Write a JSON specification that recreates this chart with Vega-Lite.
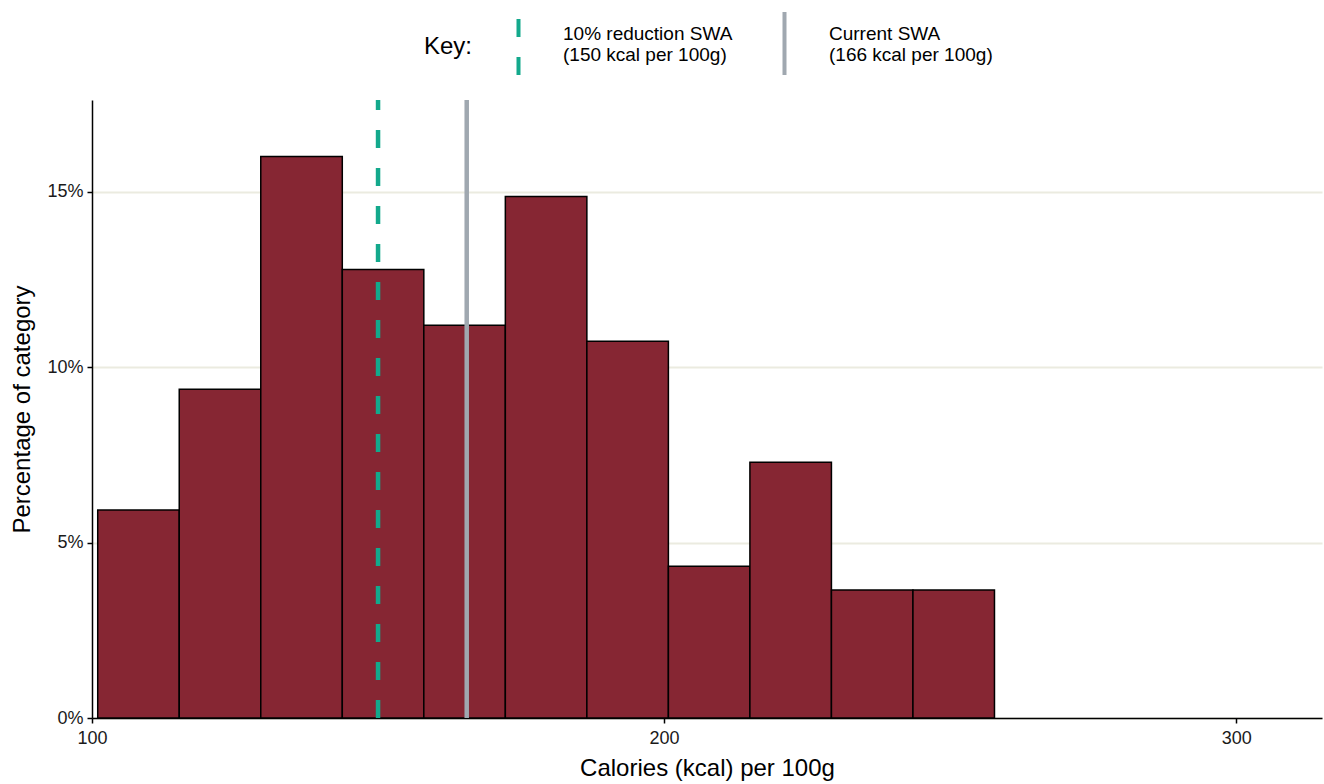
{
  "$schema": "https://vega.github.io/schema/vega-lite/v6.json",
  "width": 1230,
  "height": 618,
  "autosize": {"type": "none"},
  "padding": {"left": 92, "top": 100, "right": 2, "bottom": 66},
  "background": "white",
  "config": {
    "view": {"stroke": null},
    "font": "Liberation Sans",
    "axis": {
      "labelFont": "Liberation Sans",
      "titleFont": "Liberation Sans",
      "labelColor": "#1a1a1a",
      "titleColor": "black",
      "titleFontWeight": "normal",
      "domainColor": "black",
      "domainWidth": 1.5,
      "tickColor": "black",
      "tickWidth": 1.5,
      "tickSize": 5,
      "labelFontSize": 18,
      "titleFontSize": 24,
      "labelFlush": false
    },
    "legend": {
      "orient": "none",
      "legendX": 332,
      "legendY": -90,
      "direction": "horizontal",
      "titleOrient": "left",
      "titleFontSize": 24,
      "titleFontWeight": "normal",
      "titleColor": "black",
      "titleAnchor": "middle",
      "titleBaseline": "middle",
      "titlePadding": 12,
      "symbolType": "M0,1L0,-1",
      "symbolSize": 3969,
      "symbolStrokeWidth": 4,
      "labelFontSize": 19,
      "labelColor": "black",
      "labelOffset": 11,
      "labelBaseline": "bottom",
      "labelLimit": 400,
      "columnPadding": 18
    }
  },
  "layer": [
    {
      "data": {
        "values": [
          {"start": 101.0, "end": 115.25, "pct": 5.93},
          {"start": 115.25, "end": 129.5, "pct": 9.37},
          {"start": 129.5, "end": 143.75, "pct": 16.01},
          {"start": 143.75, "end": 158.0, "pct": 12.79},
          {"start": 158.0, "end": 172.25, "pct": 11.2},
          {"start": 172.25, "end": 186.5, "pct": 14.87},
          {"start": 186.5, "end": 200.75, "pct": 10.74},
          {"start": 200.75, "end": 215.0, "pct": 4.33},
          {"start": 215.0, "end": 229.25, "pct": 7.29},
          {"start": 229.25, "end": 243.5, "pct": 3.65},
          {"start": 243.5, "end": 257.75, "pct": 3.65}
        ]
      },
      "mark": {"type": "rect", "fill": "#862633", "stroke": "black", "strokeWidth": 1.5},
      "encoding": {
        "x": {
          "field": "start", "type": "quantitative",
          "scale": {"domain": [100, 315], "nice": false, "zero": false},
          "axis": {"values": [100, 200, 300], "grid": false, "title": "Calories (kcal) per 100g", "titlePadding": 9, "labelPadding": 6, "labelFontSize": 18}
        },
        "x2": {"field": "end"},
        "y": {
          "field": "pct", "type": "quantitative",
          "scale": {"domain": [0, 17.62], "nice": false},
          "axis": {
            "values": [0, 5, 10, 15],
            "labelExpr": "datum.value + '%'",
            "labelFontSize": 18,
            "grid": true, "gridColor": "#ebebe0", "gridWidth": 2,
            "title": "Percentage of category",
            "titlePadding": 12,
            "labelPadding": 4
          }
        },
        "y2": {"datum": 0}
      }
    },
    {
      "data": {
        "values": [
          {"value": 150, "key": "a", "lo": 0, "hi": 17.62},
          {"value": 165.5, "key": "b", "lo": 0, "hi": 17.62}
        ]
      },
      "mark": {"type": "rule", "strokeWidth": 4.5},
      "encoding": {
        "x": {"field": "value", "type": "quantitative", "axis": {"values": [100, 200, 300], "grid": false, "title": "Calories (kcal) per 100g", "labelFontSize": 18}},
        "y": {"field": "lo", "type": "quantitative"},
        "y2": {"field": "hi"},
        "color": {
          "field": "key", "type": "nominal",
          "scale": {"domain": ["a", "b"], "range": ["#13a98c", "#a0a8b0"]},
          "legend": {
            "title": "Key:",
            "labelExpr": "datum.value == 'a' ? ['10% reduction SWA', '(150 kcal per 100g)'] : ['Current SWA', '\u00a0(166 kcal per 100g)']"
          }
        },
        "strokeDash": {
          "field": "key", "type": "nominal",
          "scale": {"domain": ["a", "b"], "range": [[18, 20], [1, 0]]},
          "legend": {
            "title": "Key:",
            "labelExpr": "datum.value == 'a' ? ['10% reduction SWA', '(150 kcal per 100g)'] : ['Current SWA', '\u00a0(166 kcal per 100g)']"
          }
        }
      }
    }
  ]
}
